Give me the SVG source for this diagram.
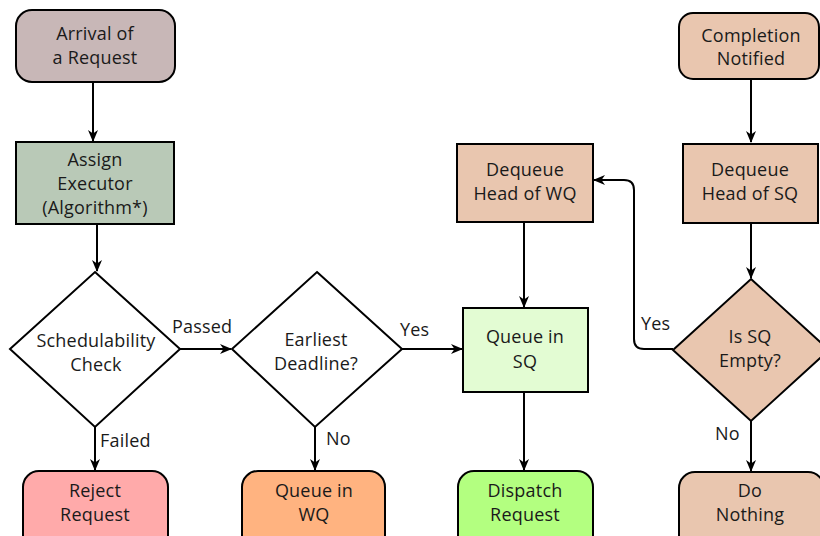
<svg xmlns="http://www.w3.org/2000/svg" width="820" height="536" viewBox="0 0 820 536">
  <style>
    .box { stroke: #000; stroke-width: 2; }
    .txt { font-family: "Open Sans", "Noto Sans", "DejaVu Sans", sans-serif; font-size: 18px; fill: #1a1a1a; text-anchor: middle; letter-spacing: 0.2px; }
    .lbl { font-family: "Open Sans", "Noto Sans", "DejaVu Sans", sans-serif; font-size: 18px; fill: #1a1a1a; letter-spacing: 0.2px; }
    .edge { fill: none; stroke: #000; stroke-width: 2; marker-end: url(#arrow); }
    .peach { fill: #e9c6af; }
  </style>
  <defs>
    <marker id="arrow" viewBox="0 0 12 10" refX="11" refY="5" markerWidth="12" markerHeight="10" markerUnits="userSpaceOnUse" orient="auto">
      <path d="M0,0 L12,5 L0,10 L3.5,5 z" fill="#000"/>
    </marker>
  </defs>

  <!-- connectors -->
  <g id="connectors">
    <path class="edge" d="M93,82 V141"/>
    <path class="edge" d="M97,224 V271"/>
    <path class="edge" d="M180,349 H231"/>
    <path class="edge" d="M95,427 V470"/>
    <path class="edge" d="M402,349 H462"/>
    <path class="edge" d="M315,427 V470"/>
    <path class="edge" d="M524,222 V307"/>
    <path class="edge" d="M524,392 V470"/>
    <path class="edge" d="M751,79 V142"/>
    <path class="edge" d="M751,223 V278"/>
    <path class="edge" d="M751,421 V471"/>
    <path class="edge" d="M673,349 H644 Q634,349 634,339 V190 Q634,180 624,180 H594"/>
    <text class="lbl" x="172" y="333">Passed</text>
    <text class="lbl" x="100" y="447">Failed</text>
    <text class="lbl" x="400" y="336">Yes</text>
    <text class="lbl" x="326" y="445">No</text>
    <text class="lbl" x="641" y="330">Yes</text>
    <text class="lbl" x="715" y="440">No</text>
  </g>

  <g id="arrival">
    <rect class="box" x="16" y="10" width="159" height="72" rx="16" fill="#c8b7b7"/>
    <text class="txt" x="95" y="40">Arrival of</text>
    <text class="txt" x="95" y="64">a Request</text>
  </g>

  <g id="assign">
    <rect class="box" x="16" y="142" width="158" height="82" fill="#b9c9b7"/>
    <text class="txt" x="95" y="166">Assign</text>
    <text class="txt" x="95" y="190">Executor</text>
    <text class="txt" x="95" y="214">(Algorithm*)</text>
  </g>

  <g id="schedulability">
    <polygon class="box" points="95,272 180,349 95,427 10,349" fill="#fff"/>
    <text class="txt" x="96" y="347">Schedulability</text>
    <text class="txt" x="96" y="371">Check</text>
  </g>

  <g id="earliest">
    <polygon class="box" points="317,272 402,349 315,427 232,349" fill="#fff"/>
    <text class="txt" x="316" y="346">Earliest</text>
    <text class="txt" x="316" y="370">Deadline?</text>
  </g>

  <g id="reject">
    <rect class="box" x="23" y="471" width="145" height="80" rx="16" fill="#ffaaaa"/>
    <text class="txt" x="95" y="497">Reject</text>
    <text class="txt" x="95" y="521">Request</text>
  </g>

  <g id="queue-wq">
    <rect class="box" x="242" y="471" width="143" height="80" rx="16" fill="#ffb380"/>
    <text class="txt" x="314" y="497">Queue in</text>
    <text class="txt" x="314" y="521">WQ</text>
  </g>

  <g id="dequeue-wq">
    <rect class="box peach" x="457" y="144" width="136" height="78"/>
    <text class="txt" x="525" y="176">Dequeue</text>
    <text class="txt" x="525" y="200">Head of WQ</text>
  </g>

  <g id="queue-sq">
    <rect class="box" x="463" y="308" width="125" height="84" fill="#e3fcd3"/>
    <text class="txt" x="525" y="343">Queue in</text>
    <text class="txt" x="525" y="368">SQ</text>
  </g>

  <g id="dispatch">
    <rect class="box" x="458" y="471" width="135" height="80" rx="16" fill="#b3ff80"/>
    <text class="txt" x="525" y="497">Dispatch</text>
    <text class="txt" x="525" y="521">Request</text>
  </g>

  <g id="completion">
    <rect class="box peach" x="679" y="13" width="140" height="66" rx="14"/>
    <text class="txt" x="751" y="42">Completion</text>
    <text class="txt" x="751" y="65">Notified</text>
  </g>

  <g id="dequeue-sq">
    <rect class="box peach" x="683" y="144" width="135" height="79"/>
    <text class="txt" x="750" y="176">Dequeue</text>
    <text class="txt" x="750" y="200">Head of SQ</text>
  </g>

  <g id="sq-empty">
    <polygon class="box peach" points="751,279 829,350 751,421 673,350"/>
    <text class="txt" x="750" y="343">Is SQ</text>
    <text class="txt" x="750" y="367">Empty?</text>
  </g>

  <g id="do-nothing">
    <rect class="box peach" x="679" y="472" width="145" height="80" rx="16"/>
    <text class="txt" x="750" y="497">Do</text>
    <text class="txt" x="750" y="521">Nothing</text>
  </g>
</svg>
